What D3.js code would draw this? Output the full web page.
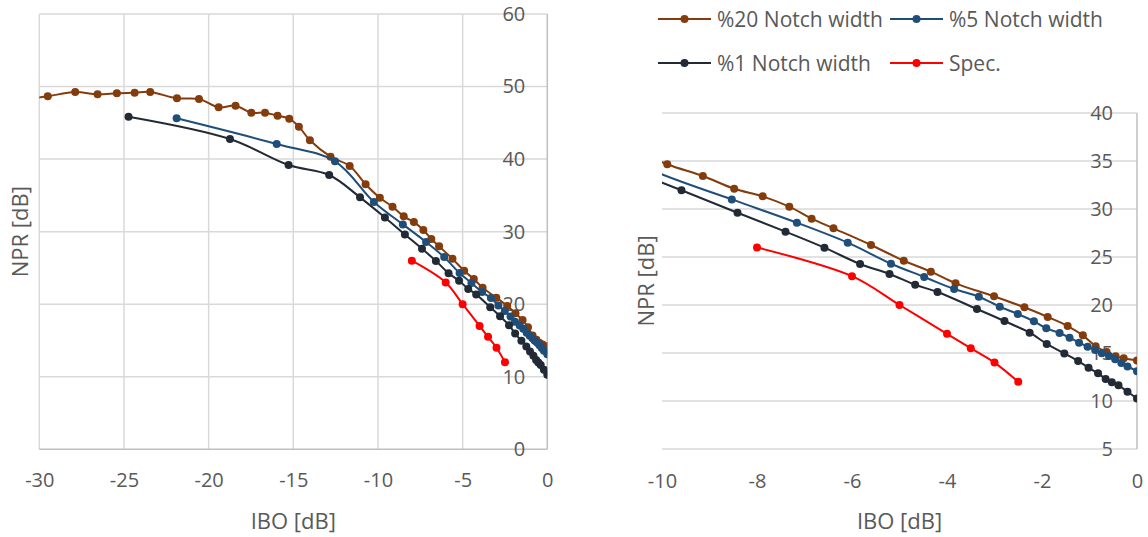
<!DOCTYPE html>
<html>
<head>
<meta charset="utf-8">
<script src="https://cdn.jsdelivr.net/npm/d3@7"></script>
<style>
  body { margin: 0; background: #fff; }
  svg { display: block; }
  text { font-family: "Open Sans", sans-serif; fill: #595959; }
</style>
</head>
<body>
<svg id="chart" width="1148" height="537"></svg>
<script>
// NPR versus input back-off for three notch widths, with the spec limit
const ibo20 = [-30.6, -29.5, -27.88, -26.56, -25.42, -24.37, -23.45, -21.87, -20.57, -19.41, -18.41, -17.48, -16.67, -15.93, -15.24, -14.67, -14.02, -12.8, -11.67, -10.73, -9.89, -9.14, -8.48, -7.88, -7.32, -6.85, -6.39, -5.6, -4.91, -4.34, -3.82, -3.01, -2.37, -1.88, -1.46, -1.14, -0.87, -0.64, -0.45, -0.28, 0];
const npr20 = [48.3, 48.65, 49.25, 48.93, 49.07, 49.15, 49.25, 48.38, 48.28, 47.14, 47.36, 46.4, 46.4, 45.98, 45.57, 44.47, 42.59, 40.33, 39.05, 36.53, 34.66, 33.44, 32.11, 31.32, 30.24, 28.99, 27.99, 26.25, 24.61, 23.47, 22.26, 20.9, 19.76, 18.75, 17.81, 16.84, 15.7, 15.1, 14.65, 14.46, 14.22];

const ibo5 = [-21.89, -15.98, -12.54, -10.24, -8.53, -7.16, -6.09, -5.18, -4.48, -3.85, -3.33, -2.89, -2.51, -2.17, -1.91, -1.63, -1.42, -1.22, -1.04, -0.88, -0.74, -0.59, -0.46, -0.33, -0.2, 0];
const npr5 = [45.62, 42.08, 39.7, 34.09, 31.0, 28.57, 26.49, 24.3, 22.92, 21.67, 20.86, 19.82, 19.06, 18.3, 17.57, 17.08, 16.6, 16.07, 15.66, 15.31, 14.97, 14.69, 14.34, 13.95, 13.6, 13.1];

const ibo1 = [-24.73, -18.74, -15.28, -12.88, -11.06, -9.59, -8.41, -7.4, -6.58, -5.83, -5.21, -4.67, -4.2, -3.37, -2.79, -2.26, -1.9, -1.53, -1.24, -1.02, -0.82, -0.66, -0.53, -0.39, -0.2, 0];
const npr1 = [45.85, 42.77, 39.19, 37.81, 34.73, 31.95, 29.61, 27.64, 25.97, 24.27, 23.23, 22.11, 21.35, 19.58, 18.33, 17.11, 15.95, 14.95, 14.16, 13.47, 12.88, 12.3, 11.96, 11.63, 10.97, 10.26];

const iboSpec = [-8, -6, -5, -4, -3.5, -3, -2.5];
const nprSpec = [26, 23, 20, 17, 15.5, 14, 12];

const seriesNames = ["%20 Notch width", "%5 Notch width", "%1 Notch width", "Spec."];
const seriesColors = ["#843C0C", "#1F4E79", "#222A35", "#FF0000"];

const leftXTicks = [-30, -25, -20, -15, -10, -5, 0];
const leftYTicks = [0, 10, 20, 30, 40, 50, 60];
const rightXTicks = [-10, -8, -6, -4, -2, 0];
const rightYTicks = [5, 10, 15, 20, 25, 30, 35, 40];

const xTitle = "IBO [dB]";
const yTitle = "NPR [dB]";

const series = [
  { name: seriesNames[0], color: seriesColors[0], pts: ibo20.map((x, i) => [x, npr20[i]]) },
  { name: seriesNames[1], color: seriesColors[1], pts: ibo5.map((x, i) => [x, npr5[i]]) },
  { name: seriesNames[2], color: seriesColors[2], pts: ibo1.map((x, i) => [x, npr1[i]]) },
  { name: seriesNames[3], color: seriesColors[3], pts: iboSpec.map((x, i) => [x, nprSpec[i]]) }
];

const svg = d3.select("#chart");
const GRID = "#d9d9d9";
const AXIS = "#bfbfbf";
const MARKER_R = 4;

function panel(id, cfg) {
  const x = d3.scaleLinear().domain(cfg.xDomain).range(cfg.xRange);
  const y = d3.scaleLinear().domain(cfg.yDomain).range(cfg.yRange);
  const g = svg.append("g");
  const [x0, x1] = cfg.xRange;
  const [y0, y1] = cfg.yRange; // y0 bottom, y1 top

  g.append("clipPath").attr("id", id)
    .append("rect").attr("x", x0).attr("y", y1).attr("width", x1 - x0).attr("height", y0 - y1);

  // horizontal grid
  g.append("g").selectAll("line").data(cfg.yTicks.filter(d => d !== cfg.yDomain[0]))
    .join("line")
    .attr("x1", x0).attr("x2", x1)
    .attr("y1", d => y(d)).attr("y2", d => y(d))
    .attr("stroke", GRID).attr("stroke-width", 1.5);

  // vertical grid
  if (cfg.vGrid) {
    g.append("g").selectAll("line").data(cfg.xTicks.filter(d => d !== cfg.xDomain[1]))
      .join("line")
      .attr("x1", d => x(d)).attr("x2", d => x(d))
      .attr("y1", y1).attr("y2", y0)
      .attr("stroke", GRID).attr("stroke-width", 1.5);
  }

  // axis lines: bottom and the vertical axis at IBO = 0
  g.append("line").attr("x1", x0).attr("x2", x1).attr("y1", y0).attr("y2", y0)
    .attr("stroke", cfg.vGrid ? AXIS : GRID).attr("stroke-width", 1.5);
  g.append("line").attr("x1", x(0)).attr("x2", x(0)).attr("y1", y1).attr("y2", y0)
    .attr("stroke", AXIS).attr("stroke-width", 1.5);

  // x tick labels
  const xa = g.append("g").attr("transform", `translate(0,${y0})`)
    .call(d3.axisBottom(x).tickValues(cfg.xTicks).tickSize(0).tickPadding(cfg.xPad).tickFormat(d => String(d)));
  xa.select(".domain").remove();
  xa.selectAll("text").style("font-size", "20px").attr("fill", "#595959").style("font-family", null);

  // y tick labels, placed just inside the vertical axis
  const ya = g.append("g").attr("transform", `translate(${x(0) - cfg.yLabelGap},0)`)
    .call(d3.axisLeft(y).tickValues(cfg.yTicks).tickSize(0).tickPadding(0).tickFormat(d => String(d)));
  ya.select(".domain").remove();
  ya.selectAll("text").style("font-size", "20px").attr("fill", "#595959").style("font-family", null);

  // axis titles
  g.append("text").attr("x", (x0 + x1) / 2).attr("y", cfg.xTitleY)
    .attr("text-anchor", "middle").attr("dominant-baseline", "central")
    .style("font-size", "22px").text(xTitle);
  g.append("text")
    .attr("transform", `translate(${cfg.yTitleX},${(y0 + y1) / 2}) rotate(-90)`)
    .attr("text-anchor", "middle").attr("dominant-baseline", "central")
    .style("font-size", "22px").text(yTitle);

  // data
  const line = d3.line().x(d => x(d[0])).y(d => y(d[1])).curve(d3.curveCatmullRom.alpha(0.5));
  const plot = g.append("g").attr("clip-path", `url(#${id})`);
  series.forEach(s => {
    plot.append("path").attr("d", line(s.pts))
      .attr("fill", "none").attr("stroke", s.color).attr("stroke-width", 2);
    plot.append("g").selectAll("circle").data(s.pts).join("circle")
      .attr("cx", d => x(d[0])).attr("cy", d => y(d[1])).attr("r", MARKER_R)
      .attr("fill", s.color);
  });
}

panel("clipLeft", {
  xDomain: [-30, 0], yDomain: [0, 60],
  xRange: [39.3, 547.3], yRange: [449.3, 14],
  xTicks: leftXTicks, yTicks: leftYTicks, vGrid: true,
  xPad: 24, yLabelGap: 22, xTitleY: 520, yTitleX: 19
});

panel("clipRight", {
  xDomain: [-10, 0], yDomain: [5, 40],
  xRange: [662, 1137], yRange: [449, 113],
  xTicks: rightXTicks, yTicks: rightYTicks, vGrid: false,
  xPad: 25, yLabelGap: 24, xTitleY: 520, yTitleX: 645
});

// legend
const legendPos = [[658, 19], [890, 19], [658, 63], [890, 63]];
const lg = svg.append("g");
series.forEach((s, i) => {
  const [lx, ly] = legendPos[i];
  const item = lg.append("g").attr("transform", `translate(${lx},${ly})`);
  item.append("line").attr("x1", 0).attr("x2", 53).attr("y1", 0).attr("y2", 0)
    .attr("stroke", s.color).attr("stroke-width", 2);
  item.append("circle").attr("cx", 26.5).attr("cy", 0).attr("r", MARKER_R).attr("fill", s.color);
  item.append("text").attr("x", 59).attr("y", 0).attr("dominant-baseline", "central")
    .style("font-size", "21px").text(s.name);
});
</script>
</body>
</html>
